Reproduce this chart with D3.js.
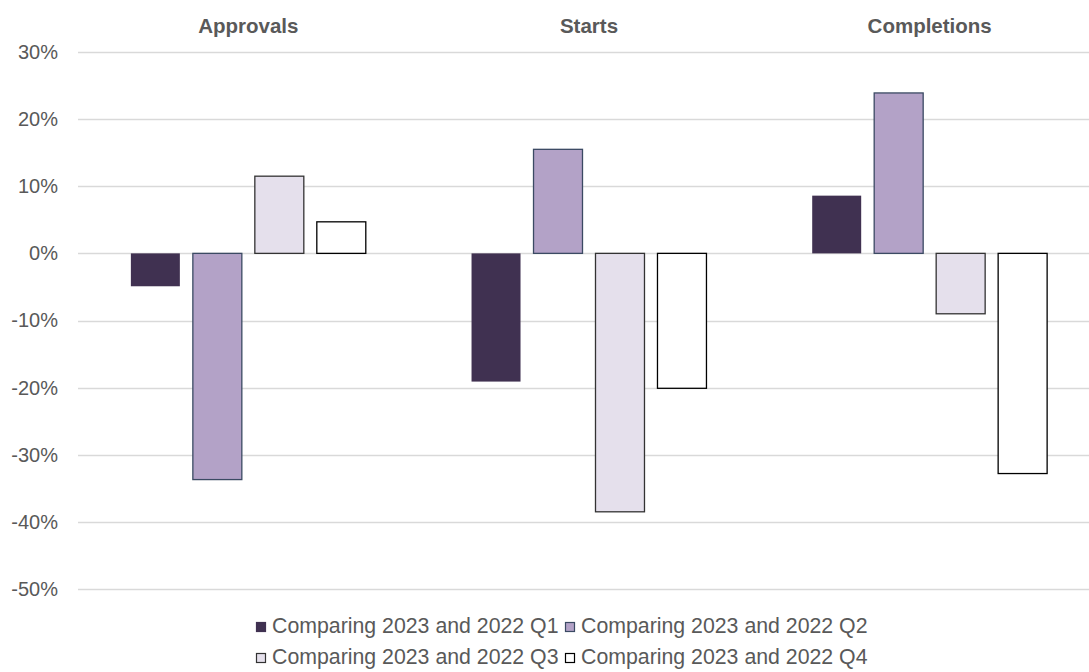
<!DOCTYPE html>
<html>
<head>
<meta charset="utf-8">
<script src="https://cdn.jsdelivr.net/npm/d3@7"></script>
<style>
  body { margin: 0; background: #fff; }
  text { font-family: "Liberation Sans", Arial, sans-serif; fill: #595959; }
</style>
</head>
<body>
<svg id="chart"></svg>
<script>
// Data
const categories = ["Approvals", "Starts", "Completions"];
const series = [
    "Comparing 2023 and 2022 Q1",
    "Comparing 2023 and 2022 Q2",
    "Comparing 2023 and 2022 Q3",
    "Comparing 2023 and 2022 Q4"
];
const q1 = [-0.049, -0.191, 0.086];
const q2 = [-0.337, 0.155, 0.239];
const q3 = [0.115, -0.385, -0.090];
const q4 = [0.047, -0.201, -0.328];
const yTicks = [0.3, 0.2, 0.1, 0, -0.1, -0.2, -0.3, -0.4, -0.5];

// Constant Values
const width = 1089;
const height = 672;
const colors = ["#403151", "#b3a2c7", "#e5e0ec", "#ffffff"];
const strokes = ["#403151", "#3b4a63", "#333333", "#000000"];

const values = [q1, q2, q3, q4];
const dataset = [];
categories.forEach((c, i) => {
    series.forEach((s, j) => dataset.push({ cat: c, ser: s, idx: j, value: values[j][i] }));
});

const svg = d3.select("#chart")
    .attr("width", width)
    .attr("height", height);

// Scales
const xScale = d3.scaleBand()
    .domain(categories)
    .range([78, 1100]);

const xSub = d3.scaleBand()
    .domain(series)
    .range([0, xScale.bandwidth()])
    .paddingInner(13 / 62)
    .paddingOuter(0.853);

const yScale = d3.scaleLinear()
    .domain([-0.5, 0.3])
    .range([589, 52]);

// Gridlines
svg.append("g")
    .selectAll("line")
    .data(yTicks)
    .enter()
    .append("line")
    .attr("x1", 78)
    .attr("x2", width)
    .attr("y1", d => Math.round(yScale(d)) + 0.5)
    .attr("y2", d => Math.round(yScale(d)) + 0.5)
    .attr("stroke", "#d9d9d9")
    .attr("stroke-width", 1.3);

// Y axis labels (plain hyphen for negatives, like the original)
const pct = d3.format(".0%");
const yAxis = d3.axisLeft(yScale)
    .tickValues(yTicks)
    .tickFormat(d => pct(d).replace("\u2212", "-"))
    .tickSize(0)
    .tickPadding(0);

svg.append("g")
    .attr("transform", "translate(58, 0)")
    .call(yAxis)
    .call(g => g.select(".domain").remove())
    .selectAll("text")
    .attr("font-size", "20px")
    .attr("font-family", null)
    .attr("fill", "#595959");

// Category labels on top
svg.append("g")
    .selectAll("text")
    .data(categories)
    .enter()
    .append("text")
    .attr("x", d => xScale(d) + xScale.bandwidth() / 2)
    .attr("y", 33)
    .attr("text-anchor", "middle")
    .attr("font-size", "20.5px")
    .attr("font-weight", "bold")
    .text(d => d);

// Bars
svg.selectAll(".bar")
    .data(dataset)
    .enter()
    .append("rect")
    .attr("class", "bar")
    .attr("x", d => xScale(d.cat) + xSub(d.ser))
    .attr("y", d => yScale(Math.max(0, d.value)))
    .attr("width", xSub.bandwidth())
    .attr("height", d => Math.abs(yScale(d.value) - yScale(0)))
    .attr("fill", d => colors[d.idx])
    .attr("stroke", d => strokes[d.idx])
    .attr("stroke-width", d => d.idx === 0 ? 0 : 1.3);

// Legend
const legendPos = [[256, 633], [565, 633], [256, 664], [565, 664]];
const legend = svg.append("g")
    .selectAll("g")
    .data(series)
    .enter()
    .append("g")
    .attr("transform", (d, i) => `translate(${legendPos[i][0]}, ${legendPos[i][1]})`);

legend.append("rect")
    .attr("x", 0.5)
    .attr("y", -10.5)
    .attr("width", 9)
    .attr("height", 9)
    .attr("fill", (d, i) => colors[i])
    .attr("stroke", (d, i) => strokes[i])
    .attr("stroke-width", 1.2);

legend.append("text")
    .attr("x", 16)
    .attr("y", 0)
    .attr("font-size", "21.3px")
    .text(d => d);
</script>
</body>
</html>
